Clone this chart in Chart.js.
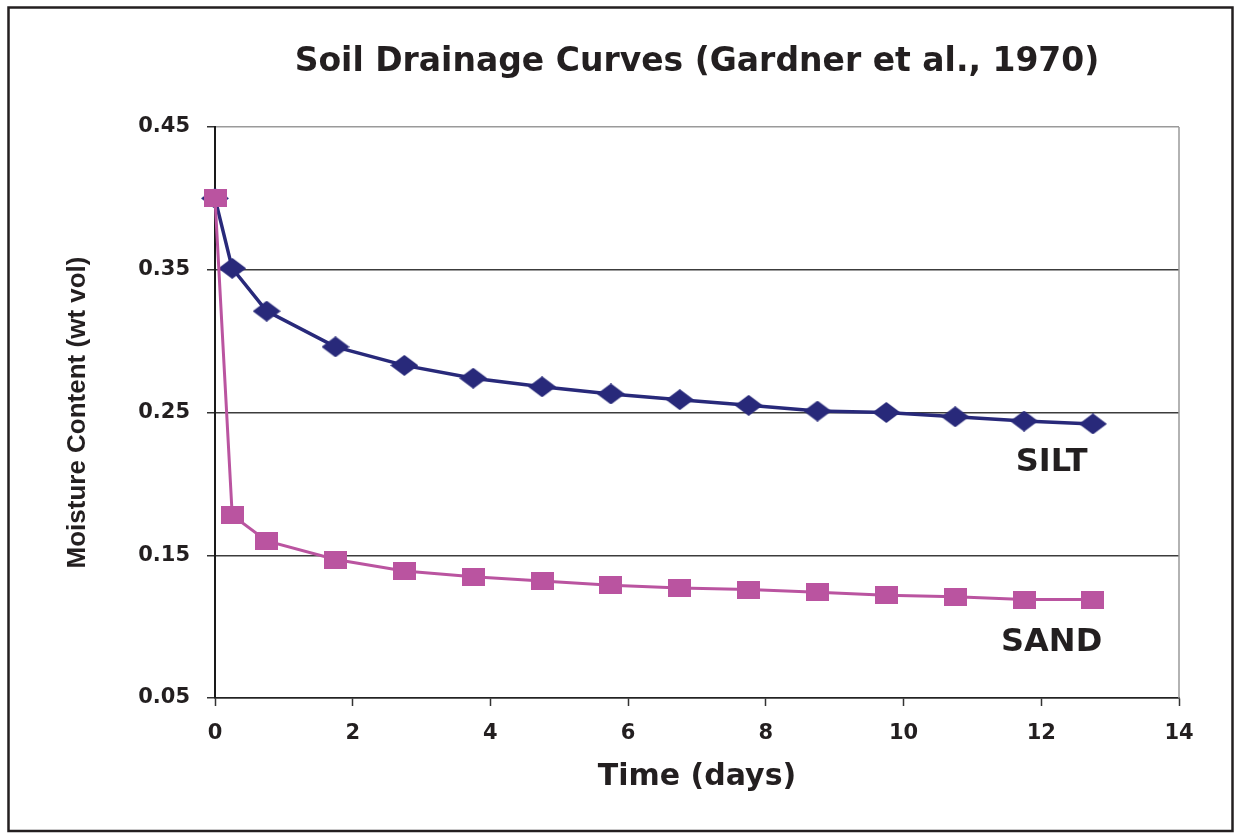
<!DOCTYPE html>
<html>
<head>
<meta charset="utf-8">
<script src="https://cdn.jsdelivr.net/npm/chart.js@4.4.0/dist/chart.umd.min.js"></script>
<style>
  html, body { margin: 0; padding: 0; background: #fff; }
  #wrap { width: 1235px; height: 833px; }
</style>
</head>
<body>
<div id="wrap"><canvas id="drainage"></canvas></div>
<script>
// days since start of drainage
const days = [0, 0.25, 0.75, 1.75, 2.75, 3.75, 4.75, 5.75, 6.75, 7.75, 8.75, 9.75, 10.75, 11.75, 12.75];
const silt = [0.400, 0.351, 0.321, 0.296, 0.283, 0.274, 0.268, 0.263, 0.259, 0.255, 0.251, 0.250, 0.247, 0.244, 0.242];
const sand = [0.400, 0.178, 0.160, 0.147, 0.139, 0.135, 0.132, 0.129, 0.127, 0.126, 0.124, 0.122, 0.121, 0.119, 0.119];
const yTicks = [0.05, 0.15, 0.25, 0.35, 0.45];
const xTicks = [0, 2, 4, 6, 8, 10, 12, 14];
const curveNames = ['SILT', 'SAND'];

const SILT_COLOR = '#28297a';
const SAND_COLOR = '#ba54a0';
const TEXT = '#231f20';

function diamond(w, h, color) {
    const c = document.createElement('canvas');
    c.width = w; c.height = h;
    const g = c.getContext('2d');
    g.fillStyle = color;
    g.beginPath();
    g.moveTo(w / 2, 0); g.lineTo(w, h / 2); g.lineTo(w / 2, h); g.lineTo(0, h / 2);
    g.closePath();
    g.fill();
    return c;
}
function box(w, h, color) {
    const c = document.createElement('canvas');
    c.width = w; c.height = h;
    const g = c.getContext('2d');
    g.fillStyle = color;
    g.fillRect(0, 0, w, h);
    return c;
}

// frame, right border and the curve names
const extras = {
    id: 'extras',
    beforeDraw(chart) {
        const { ctx, width, height } = chart;
        ctx.save();
        ctx.fillStyle = '#fff';
        ctx.fillRect(0, 0, width, height);
        ctx.strokeStyle = '#231f20';
        ctx.lineWidth = 2.5;
        ctx.strokeRect(8.5, 7.5, 1224, 823.5);
        ctx.restore();
    },
    beforeDatasetsDraw(chart) {
        const { ctx, chartArea } = chart;
        ctx.save();
        ctx.strokeStyle = '#9a9a9a';
        ctx.lineWidth = 1.5;
        ctx.beginPath();
        ctx.moveTo(chartArea.right, chartArea.top);
        ctx.lineTo(chartArea.right, chartArea.bottom);
        ctx.stroke();
        ctx.restore();
    },
    afterDatasetsDraw(chart, args, opts) {
        const { ctx, scales } = chart;
        ctx.save();
        ctx.fillStyle = TEXT;
        ctx.font = 'bold 32px "DejaVu Sans"';
        ctx.textAlign = 'center';
        ctx.textBaseline = 'middle';
        opts.anchors.forEach((a, i) => {
            ctx.fillText(curveNames[i], scales.x.getPixelForValue(a.x), scales.y.getPixelForValue(a.y));
        });
        ctx.restore();
    }
};

const ctx = document.getElementById('drainage').getContext('2d');

new Chart(ctx, {
    type: 'line',
    data: {
        datasets: [{
            label: 'SILT',
            data: days.map((d, i) => ({ x: d, y: silt[i] })),
            borderColor: SILT_COLOR,
            borderWidth: 3.5,
            pointStyle: diamond(28, 21, SILT_COLOR),
            clip: false,
            order: 1
        }, {
            label: 'SAND',
            data: days.map((d, i) => ({ x: d, y: sand[i] })),
            borderColor: SAND_COLOR,
            borderWidth: 3,
            pointStyle: box(23, 18, SAND_COLOR),
            clip: false,
            order: 0
        }]
    },
    options: {
        responsive: true,
        maintainAspectRatio: false,
        animation: false,
        layout: { padding: { left: 0, right: 56, top: 0, bottom: 0 } },
        plugins: {
            legend: { display: false },
            tooltip: { enabled: false },
            title: {
                display: true,
                fullSize: false,
                text: 'Soil Drainage Curves (Gardner et al., 1970)',
                color: TEXT,
                font: { family: '"DejaVu Sans"', size: 33, weight: 'bold', lineHeight: 1.2 },
                padding: { top: 42.5, bottom: 44.9 }
            },
            extras: {
                anchors: [{ x: 12.15, y: 0.215 }, { x: 12.15, y: 0.089 }]
            }
        },
        scales: {
            x: {
                type: 'linear',
                min: 0,
                max: 14,
                afterBuildTicks: s => { s.ticks = xTicks.map(v => ({ value: v })); },
                afterFit: s => { s.height = 135; },
                grid: { drawOnChartArea: false, tickLength: 8, tickColor: '#333', tickWidth: 1.5 },
                border: { color: '#222', width: 1.5 },
                ticks: {
                    color: TEXT,
                    padding: 15,
                    font: { family: '"DejaVu Sans"', size: 21, weight: 'bold' }
                },
                title: {
                    display: true,
                    text: 'Time (days)',
                    color: TEXT,
                    font: { family: '"DejaVu Sans"', size: 30, weight: 'bold', lineHeight: 1.2 },
                    padding: { top: 0, bottom: 38 }
                }
            },
            y: {
                min: 0.05,
                max: 0.45,
                afterBuildTicks: s => { s.ticks = yTicks.map(v => ({ value: v })); },
                afterFit: s => { s.width = 215; },
                grid: {
                    color: c => (c.tick && Math.abs(c.tick.value - 0.45) < 1e-6) ? '#9a9a9a' : '#3c3c3c',
                    lineWidth: 1.5,
                    tickLength: 8,
                    tickColor: '#333'
                },
                border: { color: '#1a1a1a', width: 2 },
                ticks: {
                    color: TEXT,
                    padding: 17,
                    font: { family: '"DejaVu Sans"', size: 21, weight: 'bold' },
                    callback: v => v.toFixed(2)
                },
                title: {
                    display: true,
                    text: 'Moisture Content (wt vol)',
                    color: TEXT,
                    font: { family: '"Liberation Sans"', size: 26, weight: 'bold', lineHeight: 1.2 },
                    padding: { top: 62, bottom: 0 }
                }
            }
        }
    },
    plugins: [extras]
});
</script>
</body>
</html>
